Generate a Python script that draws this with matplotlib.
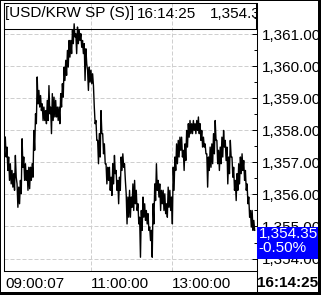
import numpy as np
import matplotlib.pyplot as plt
import matplotlib.transforms as mtransforms
from matplotlib.patches import Rectangle
from matplotlib.lines import Line2D
from matplotlib.ticker import MultipleLocator

plt.rcParams['font.family'] = ['Liberation Sans', 'DejaVu Sans']

# high / low of each small time slice, USD/KRW spot
seg_high = [1357.79, 1357.48, 1357.17, 1356.96, 1356.75, 1356.65, 1357.22, 1356.33, 1356.23, 1356.44,
            1357.74, 1357.17, 1356.96, 1356.75, 1356.85, 1356.85, 1356.96, 1358.00, 1358.52, 1359.67,
            1359.25, 1359.09, 1358.83,
            1358.73, 1358.62, 1358.94, 1359.40, 1358.73, 1359.15, 1359.04, 1358.94, 1358.73, 1358.73,
            1359.15, 1359.46, 1359.98, 1360.19, 1360.50, 1360.81, 1360.81, 1361.13, 1361.33, 1361.02,
            1361.23, 1361.13, 1361.02, 1360.81, 1360.71,
            1360.55, 1359.88, 1359.98, 1359.88, 1359.77, 1358.73, 1358.31, 1357.69, 1357.90, 1358.62,
            1357.90, 1357.58, 1356.96, 1356.85, 1356.85, 1356.54, 1356.96, 1357.22, 1356.75, 1356.44,
            1356.54, 1357.17, 1357.27, 1356.96, 1356.02,
            1355.92, 1356.13, 1355.92, 1356.33, 1356.44, 1356.13, 1355.71, 1355.29, 1355.50, 1355.92,
            1355.71, 1355.50, 1355.40, 1354.98, 1354.88, 1355.71, 1356.33, 1356.96, 1356.44, 1356.33,
            1356.13, 1356.13, 1356.02, 1355.71, 1356.23,
            1356.13, 1355.92, 1356.85, 1357.17, 1357.58, 1357.69, 1357.79, 1357.79, 1357.38, 1357.58,
            1358.00, 1358.21, 1358.31, 1358.21, 1358.31, 1358.21, 1358.31, 1358.42, 1358.21, 1358.00,
            1357.79, 1357.58, 1357.27, 1357.17, 1357.48,
            1357.58, 1357.90, 1358.31, 1357.69, 1357.38, 1357.48, 1357.79, 1358.00, 1357.69, 1357.48,
            1357.17, 1357.69, 1357.17, 1356.85, 1356.44, 1356.65, 1356.96, 1357.17, 1357.27, 1357.06,
            1356.75, 1356.33, 1355.92, 1355.50, 1355.50, 1355.19]
seg_low = [1357.17, 1356.75, 1356.44, 1356.33, 1356.23, 1356.13, 1356.54, 1355.60, 1355.71, 1356.02,
           1356.85, 1356.44, 1356.44, 1356.13, 1356.18, 1356.44, 1356.54, 1357.38, 1358.21, 1358.83,
           1358.73, 1358.62, 1358.31,
           1358.31, 1358.21, 1358.31, 1358.52, 1357.90, 1358.31, 1358.42, 1358.42, 1358.31, 1358.21,
           1358.73, 1359.04, 1359.56, 1359.72, 1359.98, 1360.29, 1360.40, 1360.71, 1360.92, 1360.40,
           1360.71, 1360.81, 1360.60, 1360.40, 1359.56,
           1360.08, 1359.25, 1359.51, 1359.46, 1359.40, 1358.21, 1357.69, 1356.96, 1357.17, 1357.90,
           1357.27, 1356.96, 1356.33, 1356.44, 1356.13, 1355.97, 1356.33, 1356.65, 1356.13, 1355.71,
           1356.13, 1356.75, 1356.85, 1356.44, 1355.08,
           1355.29, 1355.29, 1355.60, 1355.50, 1355.71, 1355.50, 1355.08, 1354.04, 1354.88, 1355.29,
           1355.19, 1355.08, 1354.88, 1354.56, 1354.04, 1355.08, 1355.81, 1356.13, 1355.92, 1355.50,
           1355.71, 1355.50, 1355.40, 1355.29, 1355.60,
           1355.50, 1355.08, 1356.13, 1356.75, 1356.96, 1357.17, 1357.38, 1357.17, 1356.75, 1357.06,
           1357.48, 1357.79, 1357.90, 1357.90, 1358.00, 1357.90, 1358.00, 1357.90, 1357.69, 1357.48,
           1357.48, 1357.27, 1356.23, 1356.75, 1356.85,
           1356.96, 1357.27, 1357.69, 1356.96, 1356.75, 1356.96, 1357.17, 1357.48, 1357.06, 1356.33,
           1356.65, 1357.17, 1356.54, 1356.13, 1355.81, 1356.13, 1356.33, 1356.65, 1356.75, 1356.44,
           1356.13, 1355.71, 1355.29, 1354.98, 1354.88, 1354.88]

title_name = "[USD/KRW SP (S)]"
last_time = "16:14:25"
last_price = 1354.35
change_pct = -0.50
time_labels = ["09:00:07", "11:00:00", "13:00:00"]
time_pos = [0, 102, 199]          # sample index of each time label
price_ticks = [1354, 1355, 1356, 1357, 1358, 1359, 1360, 1361]

W, H = 321, 295
fig = plt.figure(figsize=(W / 100, H / 100), dpi=100)
fig.patch.set_facecolor('white')

def px_box(x0, y0, x1, y1):
    # pixel box (top-left origin) -> figure fraction rect
    return [x0 / W, 1 - y1 / H, (x1 - x0) / W, (y1 - y0) / H]

# main price panel
ax = fig.add_axes(px_box(3.5, 3, 256.5, 271))
price = np.column_stack([seg_high, seg_low]).ravel()
x = np.arange(len(price))
ax.plot(x, price, color='black', lw=1.0, zorder=3)
ax.set_xlim(-2.14, 299.2)
ax.set_ylim(1353.61, 1361.98)

grid_kw = dict(color='#cfcfcf', lw=0.72, ls=(0, (4, 2)))
ax.set_yticks(price_ticks, [f"{v:,.2f}" for v in price_ticks])
ax.yaxis.set_minor_locator(MultipleLocator(0.5))
ax.grid(axis='y', which='major', **grid_kw)
for p in time_pos[1:]:
    ax.axvline(p, zorder=1, **grid_kw)

ax.yaxis.tick_right()
ax.tick_params(axis='y', which='major', direction='in', length=3.6, width=0.7,
               pad=3.6, labelsize=11, colors='black')
ax.tick_params(axis='y', which='minor', direction='in', length=2.2, width=0.7)
ax.set_xticks(time_pos, time_labels)
ax.tick_params(axis='x', length=0, pad=4, labelsize=11)
for t in ax.get_xticklabels():
    t.set_ha('left')
ax.spines['top'].set_visible(False)
for s in ['left', 'right', 'bottom']:
    ax.spines[s].set_linewidth(0.75)
    ax.spines[s].set_color('black')

# last price box on the right axis
trans = mtransforms.blended_transform_factory(ax.transAxes, ax.transData)
ax.add_patch(Rectangle((1.0, last_price - 0.375), 0.243, 1.0, transform=trans,
                       facecolor='#0000ff', edgecolor='none', clip_on=False, zorder=10))
ax.text(1.008, last_price + 0.43, f"{last_price:,.2f}", transform=trans, color='white',
        fontsize=11, va='center', ha='left', clip_on=False, zorder=11)
ax.text(1.008, last_price - 0.03, f"{change_pct:.2f}%", transform=trans, color='white',
        fontsize=11, va='center', ha='left', clip_on=False, zorder=11)

# last time at bottom right
fig.text(257 / W, 1 - 287.3 / H, last_time, fontsize=11, fontweight='bold',
         va='baseline', ha='left')
fig.add_artist(Line2D([256.5 / W, 256.5 / W], [1 - 271 / H, 1 - 292 / H], color='black', lw=0.75))

# title box
tax = fig.add_axes(px_box(3.5, 3, 256, 28.5))
tax.patch.set_alpha(0)
tax.set_xlim(3.5, 256)
tax.set_ylim(28.5, 3)
tax.set_xticks([])
tax.set_yticks([])
for s in tax.spines.values():
    s.set_linewidth(0.75)
for xp, s in [(5, title_name), (137, last_time), (210, f"{last_price:,.2f}")]:
    t = tax.text(xp, 17.5, s, fontsize=11, va='baseline', ha='left')
    t.set_clip_box(tax.bbox)
    t.set_clip_on(True)

# outer frame
for (x0, y0, w, h) in [(0, 0, 1, H), (0, 0, W, 1), (318, 0, 3, H), (0, 292, W, 3)]:
    fig.add_artist(Rectangle((x0 / W, 1 - (y0 + h) / H), w / W, h / H, transform=fig.transFigure,
                             facecolor='black', edgecolor='none', zorder=20))

fig.savefig('out.png', dpi=100)
